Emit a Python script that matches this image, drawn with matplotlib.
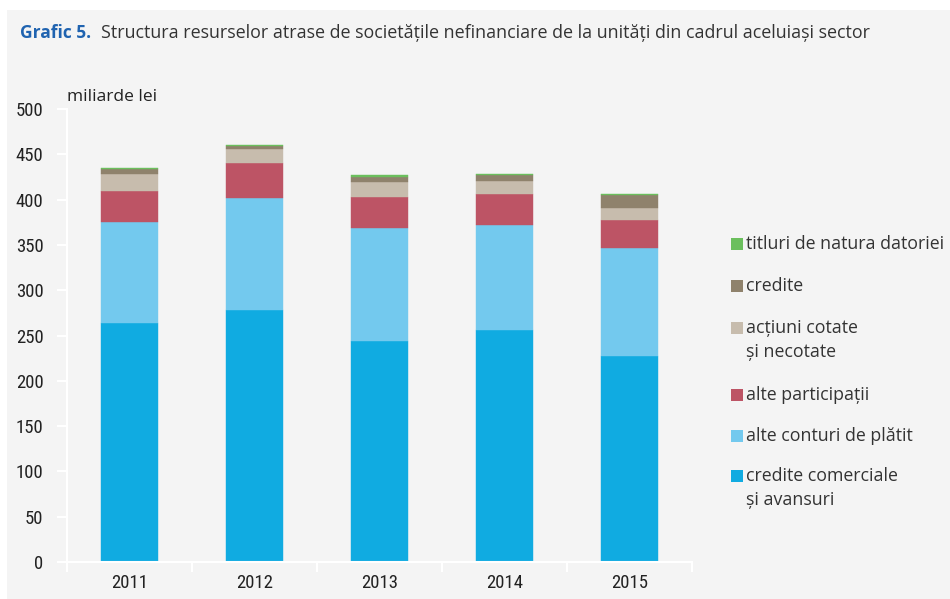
import matplotlib.pyplot as plt
import numpy as np
from matplotlib import font_manager

years = ["2011", "2012", "2013", "2014", "2015"]

# miliarde lei
credite_comerciale = [264.0, 278.5, 244.0, 256.0, 227.4]
alte_conturi = [111.3, 123.5, 124.3, 115.6, 118.8]
alte_participatii = [34.2, 38.4, 34.9, 34.9, 31.3]
actiuni = [18.5, 15.5, 15.9, 14.0, 13.6]
credite = [5.8, 3.6, 6.2, 6.7, 14.0]
titluri = [0.7, 0.8, 1.5, 1.1, 1.1]

series = [
    ("credite comerciale\nși avansuri", credite_comerciale, "#10abe1"),
    ("alte conturi de plătit", alte_conturi, "#73c9ee"),
    ("alte participații", alte_participatii, "#bd5465"),
    ("acțiuni cotate\nși necotate", actiuni, "#c7bcad"),
    ("credite", credite, "#8f826c"),
    ("titluri de natura datoriei", titluri, "#6bbf5d"),
]

# look for a condensed face for the tick labels
names = sorted({f.name for f in font_manager.fontManager.ttflist})
narrow = None
for pref in ["Roboto Condensed", "Open Sans Condensed", "Liberation Sans Narrow",
             "DejaVu Sans Condensed"]:
    if pref in names:
        narrow = pref
        break
if narrow is None:
    cands = [n for n in names if "Condensed" in n or "Narrow" in n]
    narrow = cands[0] if cands else "Roboto"

plt.rcParams['font.family'] = ['Open Sans', 'DejaVu Sans']

fig = plt.figure(figsize=(9.5, 5.99), dpi=100)
fig.patch.set_facecolor("white")

# grey panel behind the chart
panel = plt.Rectangle((7 / 950, 0), 1, 1 - 10 / 599, transform=fig.transFigure,
                      facecolor="#f4f4f4", edgecolor="none", zorder=-10)
fig.patches.append(panel)

fig.text(20 / 950, 1 - 33 / 599, "Grafic 5.", color="#1f63b0", fontsize=12.5,
         fontweight="bold", va="center", ha="left")
fig.text(101 / 950, 1 - 33 / 599,
         "Structura resurselor atrase de societățile nefinanciare de la unități din cadrul aceluiași sector",
         color="#333333", fontsize=12.9, va="center", ha="left")

ax = fig.add_axes([67 / 950, 1 - 562 / 599, 625 / 950, 453 / 599])
ax.set_facecolor("none")

x = np.arange(len(years))
bottom = np.zeros(len(years))
for label, vals, col in series:
    ax.bar(x, vals, width=0.46, bottom=bottom, color=col, label=label,
           edgecolor=col, linewidth=0.3)
    bottom += np.array(vals)

ax.set_xlim(-0.5, 4.5)
ax.set_ylim(0, 500)
ax.set_yticks(range(0, 501, 50))
ax.set_xticks(x)
ax.set_xticklabels(years)
ax.set_xticks(np.arange(-0.5, 5, 1), minor=True)
ax.tick_params(axis="x", which="major", length=0, pad=9, labelsize=13.5, labelcolor="#222222")
ax.tick_params(axis="x", which="minor", length=7, width=1.5, color="white", direction="out")
ax.tick_params(axis="y", length=7, width=1.5, color="white", pad=10, labelsize=13.5,
               labelcolor="#222222")
for lab in ax.get_xticklabels() + ax.get_yticklabels():
    lab.set_family(narrow)
for s in ["top", "right"]:
    ax.spines[s].set_visible(False)
for s in ["left", "bottom"]:
    ax.spines[s].set_color("white")
    ax.spines[s].set_linewidth(1.5)

ax.text(0.0, 1.0 + 12 / 453, "miliarde lei", transform=ax.transAxes, fontsize=12.5,
        color="#222222", ha="left", va="center")

# legend drawn by hand so the square sits on the first line of two-line labels
leg_y = [476, 436, 395, 328, 286, 244]   # pixel rows, top-down, first line of each entry
for (label, vals, col), yy in zip(series, leg_y):
    sq = plt.Rectangle((731 / 950, 1 - (yy + 6) / 599), 12 / 950, 12 / 599,
                       transform=fig.transFigure, facecolor=col, edgecolor="none")
    fig.patches.append(sq)
    lines = label.split("\n")
    for k, ln in enumerate(lines):
        fig.text(746 / 950, 1 - (yy + k * 24) / 599, ln, fontsize=12.8,
                 color="#333333", va="center", ha="left")

fig.savefig("out.png", dpi=100)
